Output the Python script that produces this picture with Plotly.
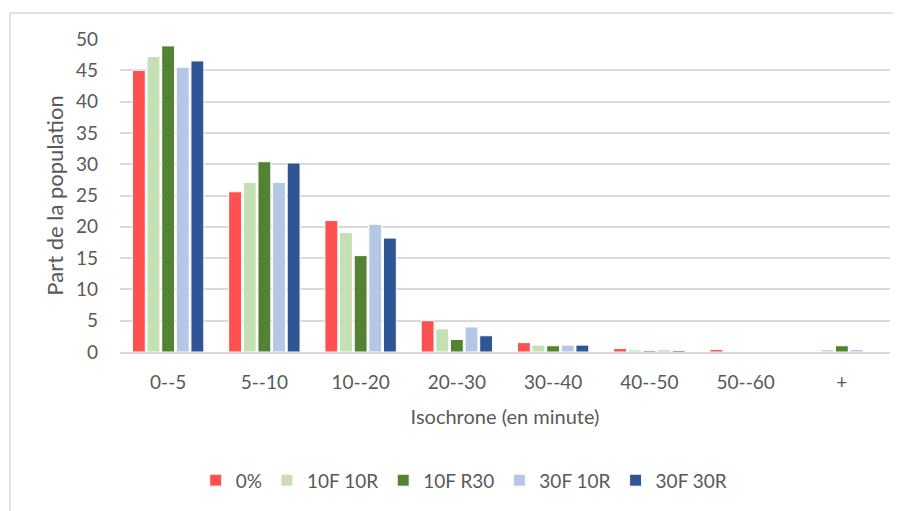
import plotly.graph_objects as go

categories = ["0--5", "5--10", "10--20", "20--30", "30--40", "40--50", "50--60", "+"]
series_names = ["0%", "10F 10R", "10F R30", "30F 10R", "30F 30R"]
s_0 = [45.0, 25.6, 21.0, 5.0, 1.5, 0.55, 0.4, 0.0]
s_10f10r = [47.2, 27.1, 19.1, 3.7, 1.1, 0.35, 0.0, 0.4]
s_10fr30 = [48.9, 30.4, 15.4, 2.0, 1.0, 0.25, 0.0, 1.0]
s_30f10r = [45.5, 27.1, 20.4, 4.0, 1.1, 0.35, 0.0, 0.4]
s_30f30r = [46.5, 30.2, 18.2, 2.6, 1.1, 0.25, 0.0, 0.0]
colors = ["#FF5050", "#C5E0B4", "#548235", "#B4C7E7", "#2F5597"]
y_ticks = [0, 5, 10, 15, 20, 25, 30, 35, 40, 45, 50]

values = [s_0, s_10f10r, s_10fr30, s_30f10r, s_30f30r]
font = "Lato, 'Open Sans', sans-serif"
grey = "#595959"

fig = go.Figure()
for name, vals, c in zip(series_names, values, colors):
    fig.add_trace(go.Bar(x=categories, y=vals, name=name,
                         marker=dict(color=c, line=dict(color="white", width=1))))

fig.update_layout(
    width=893, height=503,
    margin=dict(l=112, r=11, t=31, b=159, autoexpand=False),
    paper_bgcolor="white", plot_bgcolor="white",
    barmode="group", bargap=0.24, bargroupgap=0.12,
    font=dict(family=font, size=19, color=grey),
    showlegend=True,
    legend=dict(orientation="h", x=0.447, xanchor="center", y=-0.41, yanchor="middle",
                font=dict(size=19, color=grey), itemwidth=30, traceorder="normal"),
    xaxis=dict(showgrid=False, ticks="", tickfont=dict(size=19, color=grey), automargin=False,
               ticklabelstandoff=12, showline=True, linecolor="#D9D9D9", linewidth=2,
               title=dict(text="Isochrone (en minute)", font=dict(size=20, color=grey), standoff=18)),
    yaxis=dict(range=[0, 50], tickvals=y_ticks, showgrid=True, gridcolor="#D9D9D9", gridwidth=1.5,
               tickfont=dict(size=19, color=grey), ticklabelstandoff=21, zeroline=False, automargin=False,
               title=dict(text="Part de la population", font=dict(size=22, color=grey), standoff=6)),
)

fig.add_shape(type="line", xref="paper", yref="paper", x0=-0.143, x1=1.2, y0=1.083, y1=1.083,
              line=dict(color="#D9D9D9", width=1.5))
fig.add_shape(type="line", xref="paper", yref="paper", x0=-0.143, x1=-0.143, y0=1.083, y1=-1.0,
              line=dict(color="#D9D9D9", width=1.5))

fig.write_html("out.html")
